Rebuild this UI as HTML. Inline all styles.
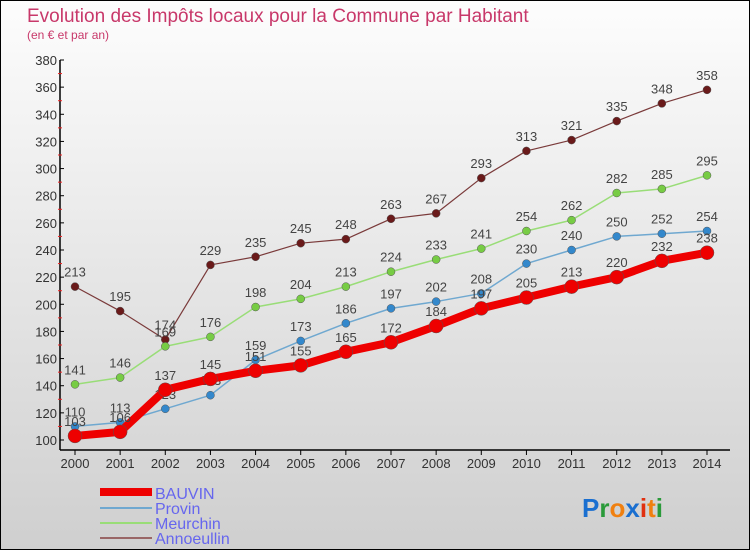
<!DOCTYPE html>
<html><head><meta charset="utf-8"><style>
body{margin:0;width:750px;height:550px;overflow:hidden}
svg{display:block;font-family:"Liberation Sans",sans-serif}
</style></head><body>
<svg id="c" width="750" height="550" xmlns="http://www.w3.org/2000/svg">
<defs><linearGradient id="bg" x1="0" y1="0" x2="0" y2="1"><stop offset="0" stop-color="#fdfdfd"/><stop offset="1" stop-color="#cfcfcf"/></linearGradient></defs>
<rect x="0.5" y="0.5" width="749" height="549" fill="url(#bg)" stroke="#000"/>
<text x="27" y="22" font-size="19" fill="#c8386a">Evolution des Impôts locaux pour la Commune par Habitant</text>
<text x="27" y="39" font-size="12" fill="#c8386a">(en € et par an)</text>
<g id="axes"></g><g id="series"></g>
<g>
<line x1="100" y1="492" x2="152" y2="492" stroke="#ee0000" stroke-width="8"/>
<text x="155" y="499" font-size="16" fill="#6666ee">BAUVIN</text>
<line x1="100" y1="508" x2="152" y2="508" stroke="#6fa8d0" stroke-width="2"/>
<text x="155" y="514" font-size="16" fill="#6666ee">Provin</text>
<line x1="100" y1="523" x2="152" y2="523" stroke="#99dd77" stroke-width="2"/>
<text x="155" y="529" font-size="16" fill="#6666ee">Meurchin</text>
<line x1="100" y1="538" x2="152" y2="538" stroke="#996666" stroke-width="2"/>
<text x="155" y="544" font-size="16" fill="#6666ee">Annoeullin</text>
</g>
<g font-size="26" font-weight="bold">
<text x="582" y="517"><tspan fill="#1a6fd0">P</tspan><tspan fill="#2a9a3a">r</tspan><tspan fill="#f08010">o</tspan><tspan fill="#1a6fd0">x</tspan><tspan fill="#e03010">i</tspan><tspan fill="#f08010">t</tspan><tspan fill="#2a9a3a">i</tspan></text>
</g>
</svg>
<script>
const years=["2000","2001","2002","2003","2004","2005","2006","2007","2008","2009","2010","2011","2012","2013","2014"];
const bauvin=[103,106,137,145,151,155,165,172,184,197,205,213,220,232,238];
const provin=[110,113,123,133,159,173,186,197,202,208,230,240,250,252,254];
const meurchin=[141,146,169,176,198,204,213,224,233,241,254,262,282,285,295];
const annoeullin=[213,195,174,229,235,245,248,263,267,293,313,321,335,348,358];
const yTicks=[100,120,140,160,180,200,220,240,260,280,300,320,340,360,380];
const NS="http://www.w3.org/2000/svg";
const x=i=>75+i*(707-75)/(years.length-1);
const y=v=>440-(v-100)*(380/280);
function mk(tag,at,parent){const e=document.createElementNS(NS,tag);for(const k in at)e.setAttribute(k,at[k]);parent.appendChild(e);return e;}
const ax=document.getElementById('axes');
let l=mk('line',{x1:60,y1:60,x2:60,y2:450,stroke:'#000','stroke-width':1.5},ax);


l=mk('line',{x1:60,y1:450,x2:730,y2:450,stroke:'#000','stroke-width':1.5},ax);


yTicks.forEach(v=>{
 mk('line',{x1:60,y1:y(v),x2:64,y2:y(v),stroke:'#000'},ax);
 if(v<380)mk('line',{x1:58,y1:y(v+10),x2:62,y2:y(v+10),stroke:'#ee2222'},ax);
 const t=mk('text',{x:57,y:y(v)+5,'font-size':13,fill:'#333','text-anchor':'end'},ax);
 t.textContent=v;
 
 
});
years.forEach((yr,i)=>{
 mk('line',{x1:x(i),y1:450,x2:x(i),y2:455,stroke:'#000'},ax);
 const t=mk('text',{x:x(i),y:468,'font-size':13,fill:'#333','text-anchor':'middle'},ax);
 t.textContent=yr;
 
 
});
const sg=document.getElementById('series');
function series(name,data,color,w,r,dot){
 const g=mk('g',{},sg);
 
 
 const p=mk('polyline',{points:data.map((v,i)=>x(i)+','+y(v)).join(' '),fill:'none',stroke:color,'stroke-width':w,'stroke-linejoin':'round'},g);
 
 
 data.forEach((v,i)=>{
  const c=mk('circle',{cx:x(i),cy:y(v),r:r,fill:dot,stroke:'#555','stroke-width':0.5},g);
  
  
  const t=mk('text',{x:x(i),y:y(v)-10,'font-size':13,fill:'#444','text-anchor':'middle'},g);
  t.textContent=v;
  
  
 });
}
series('annoeullin',annoeullin,'#7a3a3a',1.2,4,'#6a1a1a');
series('meurchin',meurchin,'#99dd77',1.5,4,'#77cc44');
series('provin',provin,'#6fa8d0',1.5,4,'#3388cc');
series('bauvin',bauvin,'#ee0000',8,7,'#ee0000');
</script>
</body></html>
